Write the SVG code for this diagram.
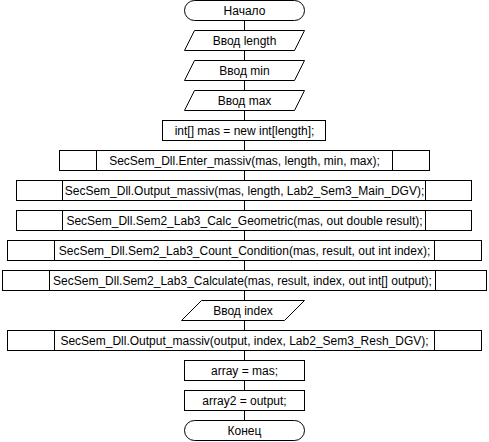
<svg xmlns="http://www.w3.org/2000/svg" width="489" height="442" viewBox="0 0 489 442">
<style>
.s{fill:#fff;stroke:#000;stroke-width:1}
.l{fill:none;stroke:#000;stroke-width:1}
.t{font-family:"Liberation Sans",Arial,sans-serif;font-size:12px;fill:#000;text-anchor:middle;dominant-baseline:central}
</style>
<rect width="489" height="442" fill="#fff"/>
<g id="connectors">
<path class="l" d="M244.5 20.5V30.5M244.5 50.5V60.5M244.5 80.5V90.5M244.5 110.5V120.5M244.5 140.5V150.5M244.5 170.5V180.5M244.5 200.5V210.5M244.5 230.5V240.5M244.5 260.5V270.5M244.5 290.5V300.5M244.5 320.5V330.5M244.5 350.5V360.5M244.5 380.5V390.5M244.5 410.5V420.5"/>
</g>
<g id="start"><rect class="s" x="184.5" y="0.5" width="120" height="20" rx="10"/><text class="t" x="244.5" y="11">Начало</text></g>
<g id="in_length"><polygon class="s" points="194.5,30.5 304.5,30.5 294.5,50.5 184.5,50.5"/><text class="t" x="244.5" y="41">Ввод length</text></g>
<g id="in_min"><polygon class="s" points="194.5,60.5 304.5,60.5 294.5,80.5 184.5,80.5"/><text class="t" x="244.5" y="71">Ввод min</text></g>
<g id="in_max"><polygon class="s" points="194.5,90.5 304.5,90.5 294.5,110.5 184.5,110.5"/><text class="t" x="244.5" y="101">Ввод max</text></g>
<g id="alloc"><rect class="s" x="162.5" y="120.5" width="163" height="20"/><text class="t" x="244.5" y="131">int[] mas = new int[length];</text></g>
<g id="enter"><rect class="s" x="59.5" y="150.5" width="370" height="20"/><path class="l" d="M96.5 150.5V170.5M392.5 150.5V170.5"/><text class="t" x="244.5" y="161">SecSem_Dll.Enter_massiv(mas, length, min, max);</text></g>
<g id="output1"><rect class="s" x="16.5" y="180.5" width="455" height="20"/><path class="l" d="M62.5 180.5V200.5M425.5 180.5V200.5"/><text class="t" x="244.5" y="191">SecSem_Dll.Output_massiv(mas, length, Lab2_Sem3_Main_DGV);</text></g>
<g id="calcgeo"><rect class="s" x="16.5" y="210.5" width="455" height="20"/><path class="l" d="M62.5 210.5V230.5M425.5 210.5V230.5"/><text class="t" x="244.5" y="221">SecSem_Dll.Sem2_Lab3_Calc_Geometric(mas, out double result);</text></g>
<g id="count"><rect class="s" x="7.5" y="240.5" width="474" height="20"/><path class="l" d="M54.5 240.5V260.5M434.5 240.5V260.5"/><text class="t" x="244.5" y="251">SecSem_Dll.Sem2_Lab3_Count_Condition(mas, result, out int index);</text></g>
<g id="calculate"><rect class="s" x="2.5" y="270.5" width="484" height="20"/><path class="l" d="M49.5 270.5V290.5M435.5 270.5V290.5"/><text class="t" x="242.5" y="281">SecSem_Dll.Sem2_Lab3_Calculate(mas, result, index, out int[] output);</text></g>
<g id="in_index"><polygon class="s" points="201.5,300.5 304.5,300.5 284.5,320.5 181.5,320.5"/><text class="t" x="243" y="311">Ввод index</text></g>
<g id="output2"><rect class="s" x="7.5" y="330.5" width="474" height="20"/><path class="l" d="M54.5 330.5V350.5M434.5 330.5V350.5"/><text class="t" x="244.5" y="341">SecSem_Dll.Output_massiv(output, index, Lab2_Sem3_Resh_DGV);</text></g>
<g id="assign1"><rect class="s" x="184.5" y="360.5" width="120" height="20"/><text class="t" x="244.5" y="371">array = mas;</text></g>
<g id="assign2"><rect class="s" x="184.5" y="390.5" width="120" height="20"/><text class="t" x="244.5" y="401">array2 = output;</text></g>
<g id="end"><rect class="s" x="184.5" y="420.5" width="120" height="20" rx="10"/><text class="t" x="244.5" y="431">Конец</text></g>
</svg>
